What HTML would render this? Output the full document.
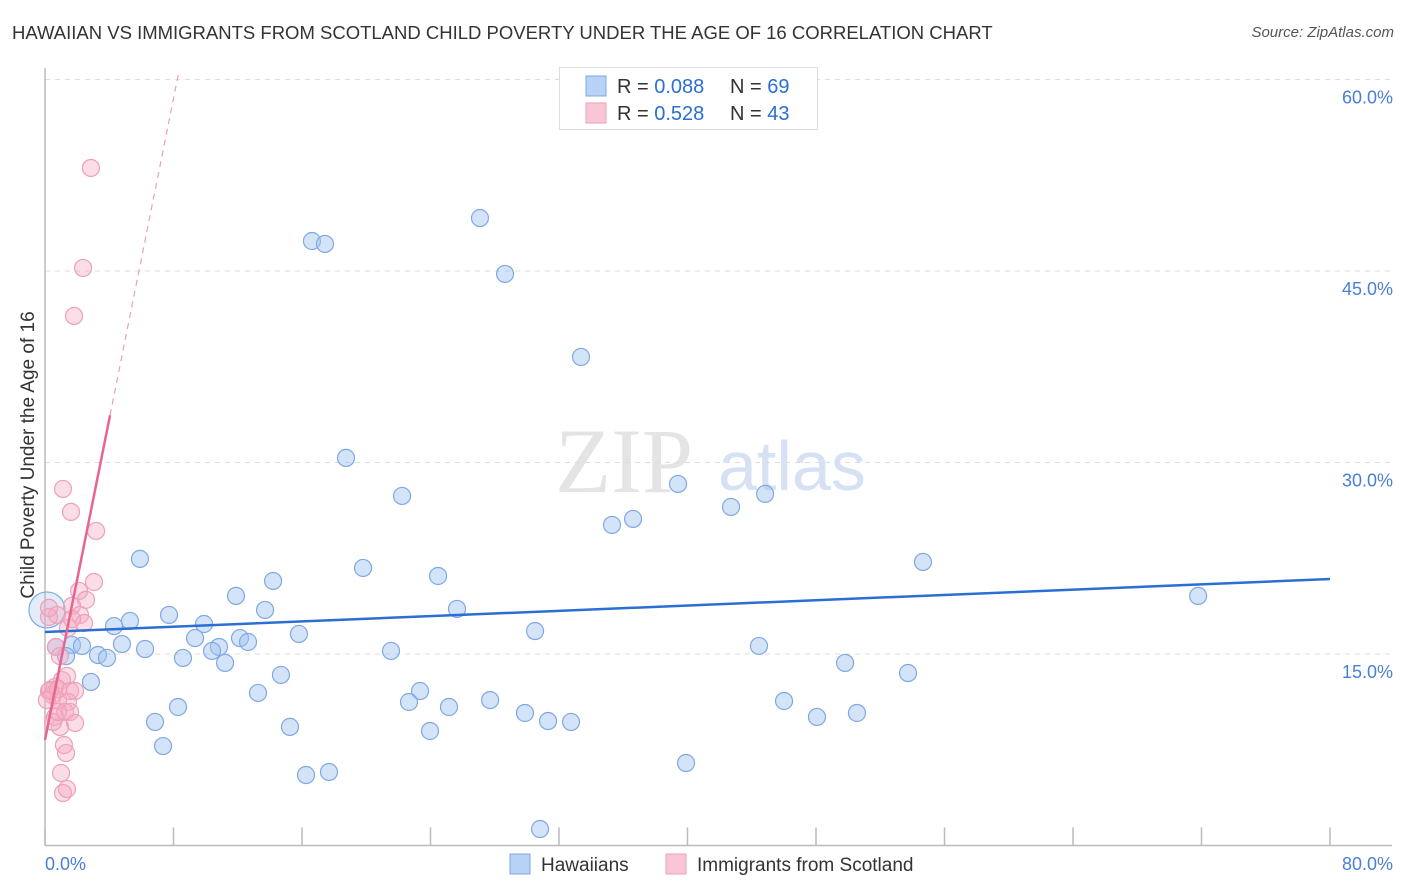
<!DOCTYPE html>
<html><head><meta charset="utf-8">
<style>
body{margin:0;background:#fff;font-family:"Liberation Sans",sans-serif;}
#wrap{position:relative;width:1406px;height:892px;overflow:hidden;}
.t{position:absolute;white-space:nowrap;}
</style></head>
<body>
<div id="wrap">
<div class="t" style="left:12px;top:22px;font-size:18.5px;color:#333;">HAWAIIAN VS IMMIGRANTS FROM SCOTLAND CHILD POVERTY UNDER THE AGE OF 16 CORRELATION CHART</div>
<div class="t" style="right:12px;top:24px;font-size:15px;color:#555;font-style:italic;">Source: ZipAtlas.com</div>
<svg id="svg" width="1406" height="892" style="position:absolute;left:0;top:0"></svg>
</div>
<script>
const blueX=[27.08,16.62,17.43,28.64,33.37,18.74,22.23,39.41,44.83,42.71,36.61,35.30,5.91,54.66,19.80,24.47,14.20,11.89,71.79,13.70,25.65,7.72,5.29,4.30,9.90,30.51,15.81,12.14,12.64,9.34,4.79,6.23,1.68,2.30,0.68,10.83,10.40,21.54,44.45,1.31,3.30,3.86,8.59,11.21,49.81,14.69,53.73,2.86,13.26,23.35,22.66,27.71,46.01,8.28,25.15,6.85,29.88,31.32,32.75,48.06,50.55,15.25,23.97,7.35,39.91,17.68,16.25,30.82,0.12];
const blueY=[49.15,47.35,47.12,44.77,38.27,30.36,27.38,28.32,27.54,26.52,25.58,25.11,22.45,22.21,21.74,21.11,20.72,19.55,19.55,18.45,18.53,18.06,17.59,17.19,17.35,16.80,16.57,16.25,15.94,16.25,15.78,15.39,15.71,15.63,15.55,15.55,15.24,15.24,15.63,14.84,14.92,14.69,14.69,14.30,14.30,13.36,13.51,12.81,11.95,12.10,11.24,11.39,11.32,10.85,10.85,9.68,10.38,9.75,9.68,10.07,10.38,9.29,8.97,7.79,6.46,5.76,5.52,1.29,18.45];
const pinkX=[2.86,2.37,1.81,1.12,1.62,3.18,3.05,2.12,2.55,1.68,2.18,2.43,1.43,0.75,0.25,0.68,0.93,1.06,1.37,0.62,0.25,1.56,1.87,0.81,1.43,1.25,1.56,1.87,0.62,0.93,0.50,1.18,1.31,1.00,1.12,1.37,0.31,0.44,0.81,0.12,0.25,1.68,0.81];
const pinkY=[53.07,45.24,41.48,27.93,26.13,24.64,20.64,19.94,19.24,18.77,18.06,17.43,17.04,18.06,17.90,15.55,14.84,12.96,13.28,12.42,12.10,12.10,12.10,11.39,11.24,10.46,10.46,9.60,10.07,9.29,9.68,7.87,7.24,5.68,4.11,4.42,12.18,11.79,12.26,11.39,18.61,17.74,10.46];
const blueTrend=[16.72,0.0519]; // intercept, slope
const pinkTrend=[8.27,6.28];
const pinkSolidMax=4.05, pinkDashMax=8.3;
const xTicks=[0,8,16,24,32,40,48,56,64,72,80];
const yTicks=[15,30,45,60];
const yTickLabels=["15.0%","30.0%","45.0%","60.0%"];

const X0=45,X1=1330,Y0=845.5,YS=191.5/15;
const sx=v=>X0+(v/80)*(X1-X0);
const sy=v=>Y0-v*YS;
const svg=document.getElementById('svg');
const NS='http://www.w3.org/2000/svg';
function mk(tag,attrs){const e=document.createElementNS(NS,tag);for(const k in attrs)e.setAttribute(k,attrs[k]);svg.appendChild(e);return e;}

let wm=mk('text',{x:555,y:492,'font-size':92,'font-family':'Liberation Serif,serif',fill:'#e4e4e4'});
wm.textContent='ZIP';


let wm2=mk('text',{x:718,y:490,'font-size':70,'font-family':'Liberation Sans,sans-serif',fill:'#d6e2f3'});
wm2.textContent='atlas';



yTicks.forEach((v,i)=>{
 let g=mk('line',{x1:X0,x2:1392,y1:sy(v),y2:sy(v),stroke:'#ddd','stroke-dasharray':'5,5'});
 
 
 let t=mk('text',{x:1393,y:sy(v)+24,'text-anchor':'end','font-size':18,fill:'#4a7fd6','font-family':'Liberation Sans,sans-serif'});
 t.textContent=yTickLabels[i];
 
 
});
let ax=mk('line',{x1:X0,x2:X0,y1:68,y2:Y0,stroke:'#bbb','stroke-width':1.5});


let axx=mk('line',{x1:X0,x2:1392,y1:Y0,y2:Y0,stroke:'#bbb','stroke-width':1.5});


xTicks.forEach(v=>{
 let tk=mk('line',{x1:sx(v),x2:sx(v),y1:Y0,y2:Y0-18,stroke:'#bbb','stroke-width':1.5});
 
 
});
let xl0=mk('text',{x:45,y:870,'font-size':18,fill:'#4a7fd6','font-family':'Liberation Sans,sans-serif'});
xl0.textContent='0.0%';


let xl1=mk('text',{x:1393,y:870,'text-anchor':'end','font-size':18,fill:'#4a7fd6','font-family':'Liberation Sans,sans-serif'});
xl1.textContent='80.0%';


let yt=mk('text',{x:0,y:0,'font-size':19,fill:'#333','font-family':'Liberation Sans,sans-serif','text-anchor':'middle',transform:'translate(34,455) rotate(-90)'});
yt.textContent='Child Poverty Under the Age of 16';



blueX.forEach((x,i)=>{
 const big=i===blueX.length-1;
 let c=mk('circle',{cx:sx(x),cy:sy(blueY[i]),r:big?18:8.5,fill:big?'rgba(160,195,240,0.3)':'rgba(160,195,240,0.45)',stroke:'#7fa8e3','stroke-width':1.2});
 
 
});
pinkX.forEach((x,i)=>{
 let c=mk('circle',{cx:sx(x),cy:sy(pinkY[i]),r:8.5,fill:'rgba(245,170,195,0.4)',stroke:'#eda0b8','stroke-width':1.2});
 
 
});
let bl=mk('line',{x1:sx(0),y1:sy(blueTrend[0]),x2:sx(80),y2:sy(blueTrend[0]+blueTrend[1]*80),stroke:'#2a6fd4','stroke-width':2.5});


let pl=mk('line',{x1:sx(0),y1:sy(pinkTrend[0]),x2:sx(pinkSolidMax),y2:sy(pinkTrend[0]+pinkTrend[1]*pinkSolidMax),stroke:'#e8658f','stroke-width':2.5});


let pd=mk('line',{x1:sx(pinkSolidMax),y1:sy(pinkTrend[0]+pinkTrend[1]*pinkSolidMax),x2:sx(pinkDashMax),y2:sy(pinkTrend[0]+pinkTrend[1]*pinkDashMax),stroke:'#e8a0b8','stroke-width':1.2,'stroke-dasharray':'6,5'});



let lb=mk('rect',{x:559.5,y:67.5,width:258,height:62,fill:'#fff',stroke:'#ddd'});


function legRow(y,fill,stroke,r,n,nm){
 let s=mk('rect',{x:586,y:y-10,width:20,height:20,fill:fill,stroke:stroke});
 
 
 let t=mk('text',{x:617,y:y+7,'font-size':20,fill:'#333','font-family':'Liberation Sans,sans-serif'});
 t.innerHTML='R = <tspan fill="#2a6fd4">'+r+'</tspan><tspan x="730">N = </tspan><tspan fill="#2a6fd4">'+n+'</tspan>';
 
 
}
legRow(86,'#b8d2f5','#7fa8e3','0.088','69','hawaiian');
legRow(113,'#f9c6d5','#eda0b8',' 0.528','43','scotland');

function bl2(x,fill,stroke,label,nm){
 let s=mk('rect',{x:x,y:854,width:20,height:20,fill:fill,stroke:stroke});
 
 
 let t=mk('text',{x:x+31,y:871,'font-size':19,fill:'#333','font-family':'Liberation Sans,sans-serif'});
 t.textContent=label;
 
 
}
bl2(510,'#b8d2f5','#7fa8e3','Hawaiians','hawaiian');
bl2(666,'#f9c6d5','#eda0b8','Immigrants from Scotland','scotland');
</script>
</body></html>
